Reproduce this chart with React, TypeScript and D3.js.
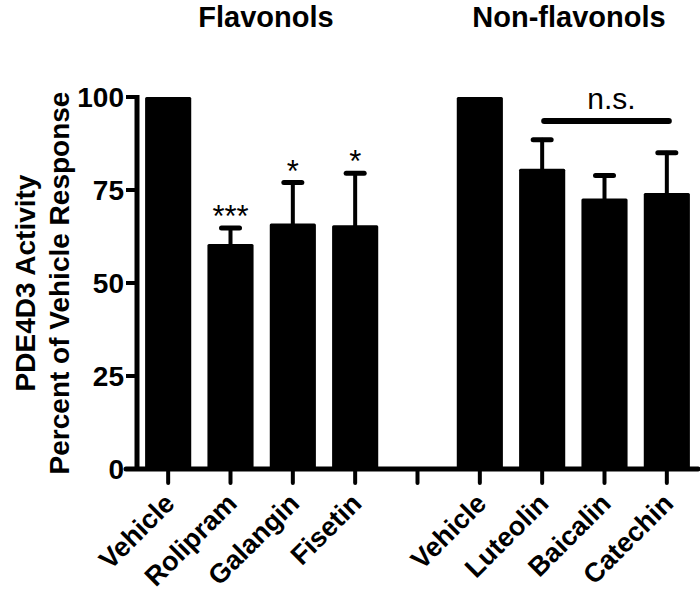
import React from "react";
import * as d3 from "d3";

const categories = ["Vehicle", "Rolipram", "Galangin", "Fisetin", "", "Vehicle ", "Luteolin", "Baicalin", "Catechin"];
const labels = ["Vehicle", "Rolipram", "Galangin", "Fisetin", "", "Vehicle", "Luteolin", "Baicalin", "Catechin"];
const means = [100, 60.5, 66, 65.5, null, 100, 80.7, 72.7, 74.2];
const errors = [0, 4.3, 11, 14, null, 0, 7.8, 6.2, 10.8];
const stars = ["", "***", "*", "*", "", "", "", "", ""];
const yTicks = [0, 25, 50, 75, 100];
const groupTitles = ["Flavonols", "Non-flavonols"];
const yTitle = ["PDE4D3 Activity", "Percent of Vehicle Response"];

const FONT = "'Liberation Sans', Arial, Helvetica, sans-serif";

export default function App() {
  const W = 700, H = 594;
  const x = d3.scaleBand<string>().domain(categories).range([137, 698]).paddingInner(0.26).paddingOuter(0.13);
  const y = d3.scaleLinear().domain([0, 100]).range([469, 97]);
  const cx = (c: string) => (x(c) as number) + x.bandwidth() / 2;
  const midY = (y(0) + y(100)) / 2;

  return (
    <svg width={W} height={H} style={{ position: "absolute", left: 0, top: 0, background: "#fff" }} fontFamily={FONT}>
      {/* group titles */}
      <text x={266} y={27} textAnchor="middle" fontSize={29} fontWeight="bold">{groupTitles[0]}</text>
      <text x={569} y={27} textAnchor="middle" fontSize={29} fontWeight="bold">{groupTitles[1]}</text>

      {/* y title */}
      <text transform={`translate(35,${midY}) rotate(-90)`} textAnchor="middle" fontSize={28} fontWeight="bold">{yTitle[0]}</text>
      <text transform={`translate(69,${midY}) rotate(-90)`} textAnchor="middle" fontSize={28} fontWeight="bold">{yTitle[1]}</text>

      {/* bars */}
      {categories.map((c, i) => means[i] == null ? null : (
        <rect key={"b" + i} x={x(c)} y={y(means[i] as number)} width={x.bandwidth()} height={y(0) - y(means[i] as number)} fill="#000" rx={1.5} />
      ))}

      {/* error bars */}
      {categories.map((c, i) => (means[i] == null || !errors[i]) ? null : (
        <g key={"e" + i} stroke="#000" strokeLinecap="round">
          <line x1={cx(c)} x2={cx(c)} y1={y(means[i] as number)} y2={y((means[i] as number) + (errors[i] as number))} strokeWidth={4} />
          <line x1={cx(c) - 9} x2={cx(c) + 9} y1={y((means[i] as number) + (errors[i] as number))} y2={y((means[i] as number) + (errors[i] as number))} strokeWidth={5} />
        </g>
      ))}

      {/* stars */}
      {categories.map((c, i) => stars[i] ? (
        <text key={"s" + i} x={cx(c)} y={y((means[i] as number) + (errors[i] as number)) - 1} textAnchor="middle" fontSize={31}>{stars[i]}</text>
      ) : null)}

      {/* n.s. bracket */}
      <line x1={cx(categories[6]) + 2} x2={cx(categories[8]) + 2} y1={121} y2={121} stroke="#000" strokeWidth={6} strokeLinecap="round" />
      <text x={(cx(categories[6]) + cx(categories[8])) / 2 + 7} y={109} textAnchor="middle" fontSize={30}>n.s.</text>

      {/* y axis */}
      <line x1={137} x2={137} y1={y(100) - 2} y2={y(0) + 2} stroke="#000" strokeWidth={5} />
      {yTicks.map(t => (
        <g key={"yt" + t}>
          <line x1={126} x2={137} y1={y(t)} y2={y(t)} stroke="#000" strokeWidth={4} />
          <text x={124} y={y(t)} dy="0.36em" textAnchor="end" fontSize={28} fontWeight="bold">{t}</text>
        </g>
      ))}

      {/* x axis */}
      <line x1={126} x2={698} y1={y(0)} y2={y(0)} stroke="#000" strokeWidth={5} strokeLinecap="round" />
      {categories.map((c, i) => (
        <g key={"xt" + i}>
          <line x1={cx(c)} x2={cx(c)} y1={y(0)} y2={y(0) + 14} stroke="#000" strokeWidth={4} strokeLinecap="round" />
          {labels[i] ? (
            <text transform={`translate(${cx(c) + 8},${y(0) + 36}) rotate(-45)`} textAnchor="end" fontSize={27} fontWeight="bold">{labels[i]}</text>
          ) : null}
        </g>
      ))}
    </svg>
  );
}
